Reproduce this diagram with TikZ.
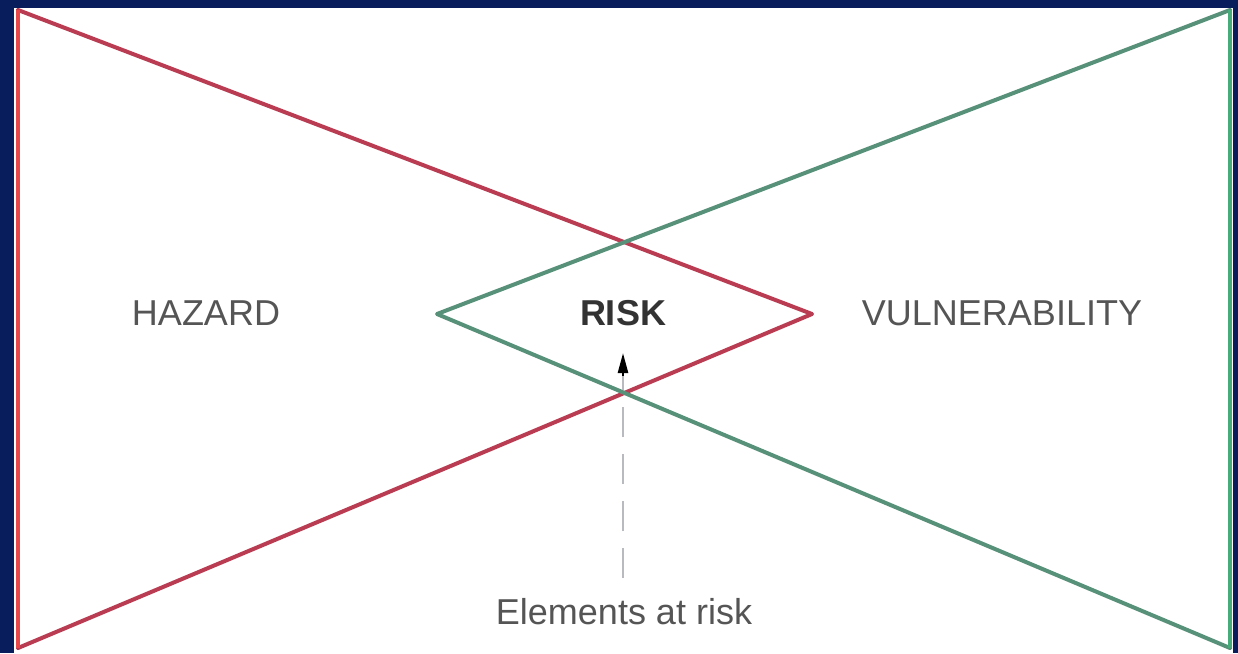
\documentclass[tikz,border=0pt]{standalone}
\usepackage{fontspec}
\setmainfont{Liberation Sans}
\usetikzlibrary{arrows.meta}
\definecolor{navy}{RGB}{8,30,92}
\definecolor{redv}{RGB}{232,72,72}
\definecolor{redd}{RGB}{185,60,82}
\definecolor{greenv}{RGB}{70,172,122}
\definecolor{greend}{RGB}{88,145,122}
\definecolor{txtgray}{RGB}{85,85,85}
\definecolor{dashgray}{RGB}{185,185,192}
\tikzset{
  lbl/.style={font=\fontsize{36}{40}\selectfont, text=txtgray, inner sep=0pt},
  diag/.style={line width=4pt, line cap=round, line join=round},
}
\begin{document}
\begin{tikzpicture}[x=1pt,y=-1pt]
\useasboundingbox (0,0) rectangle (1238,653);
\fill[navy] (0,0) rectangle (1238,653);
\fill[white] (14,8) rectangle (1233,653);
% red triangle
\coordinate (rt) at (18,10);
\coordinate (rb) at (18,648);
\coordinate (ra) at (812,314);
\draw[redd,diag] (rt) -- (ra) -- (rb);
\draw[redv,line width=4.5pt] (rt) -- (rb);
% green triangle
\coordinate (gt) at (1230,10);
\coordinate (gb) at (1230,648);
\coordinate (ga) at (437,314);
\draw[greend,diag] (gt) -- (ga) -- (gb);
\draw[greenv,line width=4.5pt] (gt) -- (gb);
% labels
\node[lbl] (haz) at (206,313) {HAZARD};
\node[lbl, text=black!80, font=\fontsize{36}{40}\selectfont\bfseries] (risk) at (623,313) {RISK};
\node[lbl] (vul) at (1002,313) {VULNERABILITY};
\node[lbl] (elem) at (624,612) {Elements at risk};
% arrow
\coordinate (atip) at (623,353);
\coordinate (abase) at (623,578);
\draw[dashgray, line width=2.5pt, dash pattern=on 30pt off 17pt] (abase) -- (623,376);
\draw[black, line width=2.5pt, -{Triangle[length=20pt,width=10pt]}] (623,376) -- (atip);
\end{tikzpicture}
\end{document}
